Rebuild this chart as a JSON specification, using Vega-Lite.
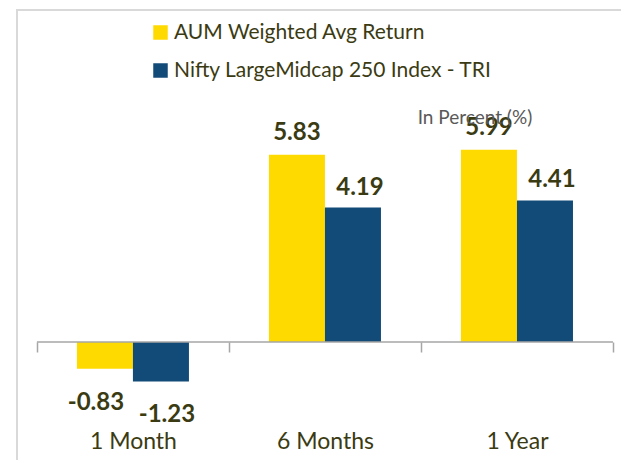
{
  "$schema": "https://vega.github.io/schema/vega-lite/v6.json",
  "width": 611,
  "height": 455,
  "autosize": "none",
  "padding": {"left": 17, "top": 10, "right": -7, "bottom": -5},
  "background": "white",
  "config": {
    "view": {"stroke": "#d9d9d9", "strokeWidth": 2},
    "font": "Lato",
    "locale": {"number": {"decimal": ".", "thousands": ",", "grouping": [3], "currency": ["$", ""], "minus": "-"}}
  },
  "datasets": {
    "returns": [
      {"period": "1 Month", "series": "AUM Weighted Avg Return", "value": -0.83},
      {"period": "1 Month", "series": "Nifty LargeMidcap 250 Index - TRI", "value": -1.23},
      {"period": "6 Months", "series": "AUM Weighted Avg Return", "value": 5.83},
      {"period": "6 Months", "series": "Nifty LargeMidcap 250 Index - TRI", "value": 4.19},
      {"period": "1 Year", "series": "AUM Weighted Avg Return", "value": 5.99},
      {"period": "1 Year", "series": "Nifty LargeMidcap 250 Index - TRI", "value": 4.41}
    ],
    "zeroline": [{"start": "1 Month", "end": "1 Year"}],
    "note": [{"period": "1 Year", "value": 6.98, "note": "In Percent (%)"}]
  },
  "layer": [
    {
      "data": {"name": "returns"},
      "mark": {"type": "bar"},
      "encoding": {
        "x": {
          "field": "period", "type": "nominal", "sort": null,
          "scale": {"domain": ["1 Month", "6 Months", "1 Year"], "paddingInner": 0, "paddingOuter": 0.091, "align": 0.57},
          "axis": {
            "title": null, "orient": "bottom", "offset": -123, "domain": false,
            "tickBand": "extent", "tickSize": 10, "tickColor": "#a6a6a6", "tickWidth": 1.5,
            "labelAngle": 0, "labelPadding": 78, "labelFontSize": 23, "labelColor": "#3b3b13",
            "labelFont": "Lato"
          }
        },
        "xOffset": {
          "field": "series", "type": "nominal", "sort": null,
          "scale": {"domain": ["AUM Weighted Avg Return", "Nifty LargeMidcap 250 Index - TRI"], "paddingInner": 0, "paddingOuter": 0.714}
        },
        "y": {
          "field": "value", "type": "quantitative",
          "scale": {"domain": [-3.832, 10.343], "nice": false, "zero": false},
          "axis": null
        },
        "color": {
          "field": "series", "type": "nominal",
          "scale": {
            "domain": ["AUM Weighted Avg Return", "Nifty LargeMidcap 250 Index - TRI"],
            "range": ["#ffda00", "#124a78"]
          },
          "legend": {
            "title": null, "orient": "none", "legendX": 133, "legendY": 12,
            "symbolType": "square", "symbolSize": 210, "symbolStrokeWidth": 0,
            "labelFontSize": 21, "labelColor": "#3b3b13", "labelFont": "Lato",
            "rowPadding": 16, "labelOffset": 3, "labelLimit": 500
          }
        }
      }
    },
    {
      "data": {"name": "zeroline"},
      "mark": {"type": "rule", "color": "#a6a6a6", "strokeWidth": 1.5},
      "encoding": {
        "x": {"field": "start", "type": "nominal", "bandPosition": 0},
        "x2": {"field": "end", "bandPosition": 1},
        "y": {"datum": 0}
      }
    },
    {
      "data": {"name": "returns"},
      "transform": [{"filter": "datum.value > 0 && datum.series == 'AUM Weighted Avg Return'"}],
      "mark": {"type": "text", "fontSize": 24, "fontWeight": "bold", "color": "#3b3b13", "baseline": "alphabetic", "dy": -15},
      "encoding": {
        "x": {"field": "period", "type": "nominal", "sort": null},
        "xOffset": {"field": "series", "type": "nominal", "sort": null},
        "y": {"field": "value", "type": "quantitative"},
        "text": {"field": "value", "type": "quantitative", "format": ".2f"}
      }
    },
    {
      "data": {"name": "returns"},
      "transform": [{"filter": "datum.value > 0 && datum.series != 'AUM Weighted Avg Return'"}],
      "mark": {"type": "text", "fontSize": 24, "fontWeight": "bold", "color": "#3b3b13", "baseline": "alphabetic", "dy": -13, "dx": 7},
      "encoding": {
        "x": {"field": "period", "type": "nominal", "sort": null},
        "xOffset": {"field": "series", "type": "nominal", "sort": null},
        "y": {"field": "value", "type": "quantitative"},
        "text": {"field": "value", "type": "quantitative", "format": ".2f"}
      }
    },
    {
      "data": {"name": "returns"},
      "transform": [{"filter": "datum.value < 0 && datum.series == 'AUM Weighted Avg Return'"}],
      "mark": {"type": "text", "fontSize": 24, "fontWeight": "bold", "color": "#3b3b13", "baseline": "top", "dy": 22, "dx": -9},
      "encoding": {
        "x": {"field": "period", "type": "nominal", "sort": null},
        "xOffset": {"field": "series", "type": "nominal", "sort": null},
        "y": {"field": "value", "type": "quantitative"},
        "text": {"field": "value", "type": "quantitative", "format": ".2f"}
      }
    },
    {
      "data": {"name": "returns"},
      "transform": [{"filter": "datum.value < 0 && datum.series != 'AUM Weighted Avg Return'"}],
      "mark": {"type": "text", "fontSize": 24, "fontWeight": "bold", "color": "#3b3b13", "baseline": "top", "dy": 22, "dx": 6},
      "encoding": {
        "x": {"field": "period", "type": "nominal", "sort": null},
        "xOffset": {"field": "series", "type": "nominal", "sort": null},
        "y": {"field": "value", "type": "quantitative"},
        "text": {"field": "value", "type": "quantitative", "format": ".2f"}
      }
    },
    {
      "data": {"name": "note"},
      "mark": {"type": "text", "fontSize": 19, "color": "#595959", "baseline": "middle", "dx": -42},
      "encoding": {
        "x": {"field": "period", "type": "nominal", "sort": null},
        "y": {"field": "value", "type": "quantitative"},
        "text": {"field": "note", "type": "nominal"}
      }
    }
  ]
}
